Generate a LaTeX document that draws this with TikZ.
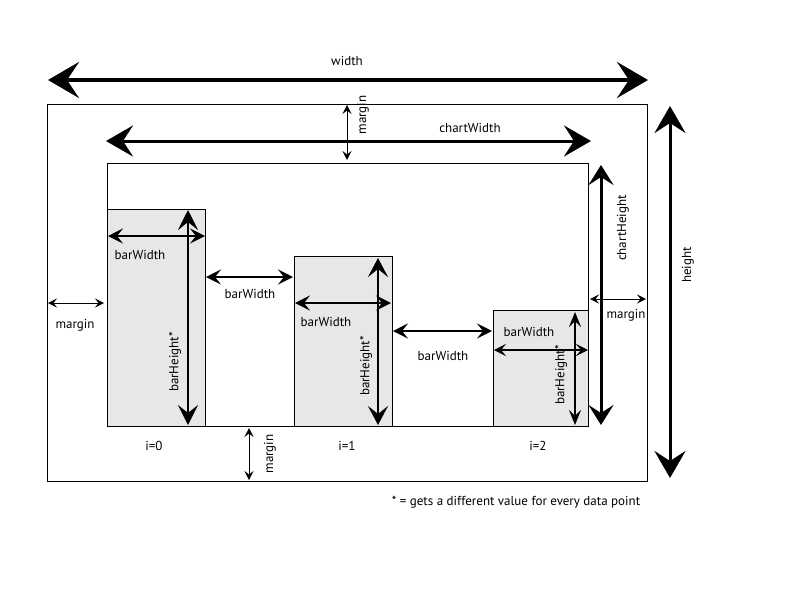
\documentclass[tikz,border=0pt]{standalone}
\usepackage{fontspec}
\setmainfont{PT Sans}
\usetikzlibrary{arrows.meta}
\definecolor{barfill}{RGB}{230,231,232}
\tikzset{
  box/.style={draw, line width=1pt, inner sep=0pt, outer sep=0pt, anchor=north west},
  bar/.style={box, fill=barfill},
  dim/.style n args={4}{line width=#1, >={Stealth[length=#2,width=#3,inset=#4]}, <->},
  lbl/.style={inner sep=1pt},
  vlbl/.style={lbl, rotate=90}
}

\begin{document}
\begin{tikzpicture}[x=1pt, y=-1pt, font=\fontsize{13}{15}\selectfont]
\useasboundingbox (0,0) rectangle (800,600);

% Frames
\node (outer) [box, minimum width=600pt, minimum height=377pt] at (47,104) {};
\node (chart) [box, minimum width=481pt, minimum height=263pt] at (107,163) {};

% Bars
\node (bar0) [bar, minimum width=98pt, minimum height=217pt] at (107,209) {};
\node (bar1) [bar, minimum width=98pt, minimum height=170pt] at (294,256) {};
\node (bar2) [bar, minimum width=95pt, minimum height=116pt] at (493,310) {};

% Outer dimensions
\draw [dim={4pt}{31pt}{36pt}{12pt}] (48,80) -- (648,80);
\node (widthlbl) [lbl] at (347,61) {width};
\draw [dim={3pt}{27pt}{31pt}{10pt}] (670,106) -- (670,478);
\node (heightlbl) [vlbl] at (688,265) {height};

% Chart dimensions
\draw [dim={3pt}{27pt}{31pt}{10pt}] (106,141) -- (591,141);
\node (cwlbl) [lbl] at (470,128) {chartWidth};
\draw [dim={3pt}{20pt}{25pt}{8pt}] (601,165) -- (601,425);
\node (chlbl) [vlbl] at (623,228) {chartHeight};

% Margins
\draw [dim={1pt}{9pt}{9pt}{3.5pt}] (347,105) -- (347,160);
\node (mtop) [vlbl] at (363,115) {margin};
\draw [dim={1pt}{9pt}{9pt}{3.5pt}] (48,303) -- (104,303);
\node (mleft) [lbl] at (75,325) {margin};
\draw [dim={1pt}{9pt}{9pt}{3.5pt}] (590,299) -- (646,299);
\node (mright) [lbl] at (626,315) {margin};
\draw [dim={1pt}{9pt}{9pt}{3.5pt}] (249,428) -- (249,480);
\node (mbottom) [vlbl] at (270,454) {margin};

% Bar 0
\draw [dim={2pt}{15pt}{15pt}{6pt}] (108,236) -- (205,236);
\node (bw0) [lbl] at (140,255) {barWidth};
\draw [dim={2.5pt}{20pt}{20pt}{8pt}] (188,210) -- (188,425);
\node (bh0) [vlbl] at (175,362) {barHeight*};
\node (i0) [lbl] at (154,446) {i=0};

% Gap 0-1
\draw [dim={2pt}{15pt}{15pt}{6pt}] (206,277) -- (293,277);
\node (gap0) [lbl] at (250,294) {barWidth};

% Bar 1
\draw [dim={2pt}{15pt}{15pt}{6pt}] (295,303) -- (391,303);
\node (bw1) [lbl] at (326,322) {barWidth};
\draw [dim={2.5pt}{19pt}{20pt}{8pt}] (378,258) -- (378,425);
\node (bh1) [vlbl] at (366,366) {barHeight*};
\node (i1) [lbl] at (347,446) {i=1};

% Gap 1-2
\draw [dim={2pt}{15pt}{15pt}{6pt}] (393,331) -- (492,331);
\node (gap1) [lbl] at (443,356) {barWidth};

% Bar 2
\draw [dim={1.5pt}{12pt}{12pt}{5pt}] (494,350) -- (588,350);
\node (bw2) [lbl] at (529,332) {barWidth};
\draw [dim={2pt}{15pt}{12pt}{6pt}] (575,312) -- (575,425);
\node (bh2) [vlbl] at (561,375) {barHeight*};
\node (i2) [lbl] at (538,446) {i=2};

% Footnote
\node (note) [lbl] at (516,502) {* = gets a different value for every data point};

\end{tikzpicture}
\end{document}
